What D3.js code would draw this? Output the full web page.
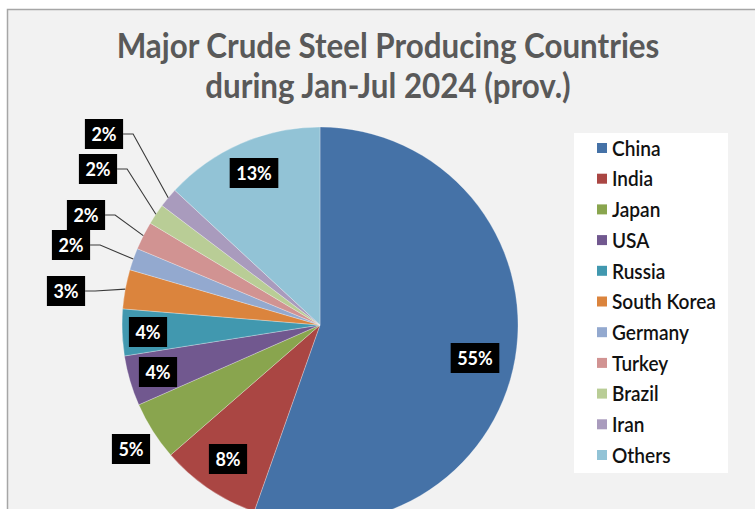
<!DOCTYPE html>
<html>
<head>
<meta charset="utf-8">
<script src="https://cdn.jsdelivr.net/npm/d3@7"></script>
<style>
  html, body { margin: 0; padding: 0; background: #ffffff; }
  svg { display: block; }
  text { font-family: Lato, "Open Sans", "DejaVu Sans", sans-serif; }
</style>
</head>
<body>
<svg id="chart" width="755" height="509"></svg>
<script>
// ---- data ----
const categories = ["China", "India", "Japan", "USA", "Russia", "South Korea", "Germany", "Turkey", "Brazil", "Iran", "Others"];
const shares = [55.4, 8.2, 4.8, 4.1, 3.8, 3.2, 1.8, 2.3, 1.7, 1.6, 13.1];
const titleLines = ["Major Crude Steel Producing Countries", "during Jan-Jul 2024 (prov.)"];

// ---- styles / layout (not data) ----
const colors = ["#4572A7", "#AA4643", "#89A54E", "#71588F", "#4198AF", "#DB843D", "#93A9CF", "#D19392", "#B9CD96", "#A99BBD", "#92C3D6"];
// label box centres, relative to pie centre
const labelOffsets = [[155, 33], [-92, 134], [-189, 124], [-162, 47], [-172, 7], [-254, -34], [-249, -80], [-234, -110], [-222, -156], [-216, -191], [-66, -152]];
const hasLeader = [false, false, false, false, false, true, true, true, true, true, false];

const svg = d3.select("#chart");
const W = 755, H = 509;

// chart area
svg.append("rect").attr("x", 7.5).attr("y", 9.5).attr("width", W).attr("height", H)
  .attr("fill", "#f2f2f2").attr("stroke", "#a6a6a6").attr("stroke-width", 1.5);

// title (narrowed glyphs to mimic Calibri proportions)
const title = svg.append("g").attr("fill", "#595959").attr("font-weight", "bold").attr("text-anchor", "middle");
const titleYs = [58, 98];
const tts = title.selectAll("text").data(titleLines).join("text")
  .attr("x", 388).attr("y", (d, i) => titleYs[i]).attr("font-size", 30).text(d => d);
const w1 = tts.nodes()[0].getComputedTextLength();
const titleSize = 30 * 543 / w1;
tts.attr("font-size", titleSize);
const natW = tts.nodes().map(n => n.getComputedTextLength());
tts.attr("font-size", titleSize * 1.1)
  .attr("textLength", (d, i) => natW[i]).attr("lengthAdjust", "spacingAndGlyphs");

// pie
const cx = 320, cy = 325, r = 198;
const pie = d3.pie().sort(null).value(d => d);
const arcs = pie(shares);
const arc = d3.arc().innerRadius(0).outerRadius(r);
const total = d3.sum(shares);

const g = svg.append("g").attr("transform", `translate(${cx},${cy})`);
g.selectAll("path.slice").data(arcs).join("path")
  .attr("class", "slice")
  .attr("d", arc)
  .attr("fill", (d, i) => colors[i])
  .attr("stroke", "#ffffff").attr("stroke-opacity", 0.4).attr("stroke-width", 0.7);

// labels
const lab = g.append("g");
arcs.forEach((d, i) => {
  const [lx, ly] = labelOffsets[i];
  const txt = Math.round(d.data / total * 100) + "%";
  const grp = lab.append("g");
  const t = grp.append("text").attr("x", lx).attr("y", ly).attr("dy", "0.36em")
    .attr("text-anchor", "middle").attr("fill", "#ffffff").attr("font-weight", "bold")
    .attr("font-size", 18).text(txt);
  const tw = t.node().getComputedTextLength();
  t.attr("font-size", 19.5).attr("textLength", tw).attr("lengthAdjust", "spacingAndGlyphs");
  const bw = tw + 13, bh = 30;
  grp.insert("rect", "text").attr("x", lx - bw / 2).attr("y", ly - bh / 2)
    .attr("width", bw).attr("height", bh).attr("fill", "#000000");
  if (hasLeader[i]) {
    const mid = (d.startAngle + d.endAngle) / 2;
    const px = Math.sin(mid) * r, py = -Math.cos(mid) * r;
    const sx = lx + bw / 2;
    lab.insert("path", ":first-child")
      .attr("d", `M${sx},${ly}L${sx + 10},${ly}L${px},${py}`)
      .attr("fill", "none").attr("stroke", "#3a3a3a").attr("stroke-width", 1.1);
  }
});

// legend
const legend = svg.append("g");
legend.append("rect").attr("x", 574).attr("y", 133).attr("width", 154).attr("height", 340).attr("fill", "#ffffff");
const rowY = d3.scalePoint().domain(categories).range([148, 455]);
const items = legend.selectAll("g.item").data(categories).join("g").attr("class", "item")
  .attr("transform", d => `translate(0,${rowY(d)})`);
items.append("rect").attr("x", 597).attr("y", -5).attr("width", 10).attr("height", 10)
  .attr("fill", (d, i) => colors[i]);
const lt = items.append("text").attr("x", 612).attr("dy", "0.36em").attr("font-size", 17)
  .attr("fill", "#111111").text(d => d);
const skw = lt.filter(d => d === "South Korea").node().getComputedTextLength();
const legSize = 17 * 104 / skw;
lt.attr("font-size", legSize);
const legW = lt.nodes().map(n => n.getComputedTextLength());
lt.attr("font-size", legSize * 1.12).attr("font-weight", 600)
  .attr("textLength", (d, i) => legW[i]).attr("lengthAdjust", "spacingAndGlyphs");
</script>
</body>
</html>
